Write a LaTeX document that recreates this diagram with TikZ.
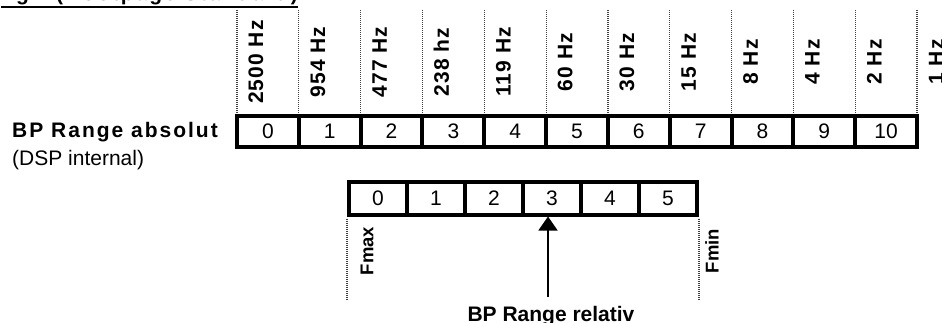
\documentclass[tikz,border=0pt]{standalone}
\usepackage{fontspec}
\setmainfont{Liberation Sans}
\newfontfamily\widesans[LetterSpace=9.5]{Liberation Sans}
\newfontfamily\hzsans[LetterSpace=5]{Liberation Sans}
\usetikzlibrary{arrows.meta,calc}

\begin{document}
\begin{tikzpicture}[x=1pt,y=1pt,
  lbl/.style={font=\fontsize{21}{24}\selectfont\bfseries, inner sep=0pt},
  widelbl/.style={font=\widesans\fontsize{21}{24}\selectfont\bfseries, inner sep=0pt},
  txt/.style={font=\fontsize{21}{24}\selectfont, inner sep=0pt},
  hzlbl/.style={font=\hzsans\fontsize{21}{24}\selectfont\bfseries, inner sep=0pt, rotate=90},
  limlbl/.style={font=\fontsize{18.5}{22}\selectfont\bfseries, inner sep=0pt, rotate=90},
  guide/.style={line width=1.2pt, black!75, dash pattern=on 1pt off 1pt},
  abscell/.style={draw, line width=4pt, minimum width=61.82pt, minimum height=31.5pt,
    inner sep=0pt, font=\fontsize{21}{24}\selectfont},
  relcell/.style={draw, line width=4pt, minimum width=58pt, minimum height=32.5pt,
    inner sep=0pt, font=\fontsize{21}{24}\selectfont},
  pointer/.style={line width=1.5pt, -{Triangle[width=19pt,length=14pt]}}
]
\useasboundingbox (0,0) rectangle (942,-322);
\clip (0,0) rectangle (942,-322);

% heading, only its lower edge lies inside the page
\node[widelbl, anchor=base east] (title) at (298,0) {ng 1 (Bootpage Standard)};
\draw[line width=2pt] ($(title.base west)+(0,-6.5)$) -- ($(title.base east)+(0,-6.5)$);

% absolute range: eleven cells
\foreach \i in {0,...,10} {
  \node[abscell] (a\i) at ({237+61.82*(\i+0.5)},-131.25) {\i};
}

% frequency guides and labels above the absolute cells
\foreach \f [count=\k from 0] in {2500 Hz,954 Hz,477 Hz,238 hz,119 Hz,60 Hz,30 Hz,15 Hz,8 Hz,4 Hz,2 Hz,1 Hz} {
  \coordinate (g\k) at ({237+61.82*\k},-10);
  \draw[guide] (g\k) -- ++(0,-103.5);
  \node[hzlbl] (f\k) at ({237+61.82*\k+19},-62) {\f};
}

\node[widelbl, anchor=base west] (absname) at (12,-137) {BP Range absolut};
\node[txt, anchor=base west] (dsp) at (12,-165) {(DSP internal)};

% relative range: six cells
\foreach \i in {0,...,5} {
  \node[relcell] (r\i) at ({349+58*(\i+0.5)},-198.25) {\i};
}

% limits below the relative cells
\draw[guide] (r0.south west) ++(0,-2) -- ++(0,-81);
\draw[guide] (r5.south east) ++(0,-2) -- ++(0,-81);
\node[limlbl] (fmax) at (367,-251) {Fmax};
\node[limlbl] (fmin) at (712,-251) {Fmin};

% pointer to the selected relative cell
\coordinate (foot) at (548,-297);
\draw[pointer] (foot) -- (foot |- r3.south);
\node[lbl, anchor=base] (relname) at (551,-321) {BP Range relativ};
\end{tikzpicture}
\end{document}
